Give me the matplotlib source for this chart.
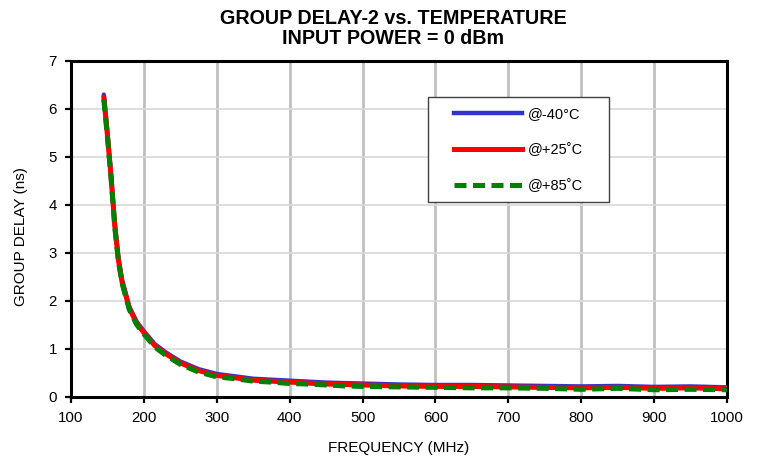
import matplotlib
matplotlib.use("Agg")
import matplotlib.pyplot as plt
from matplotlib.lines import Line2D
from matplotlib.patches import Rectangle

plt.rcParams['font.family'] = ['Liberation Sans', 'DejaVu Sans']

freq = [145, 150, 155, 160, 165, 170, 180, 190, 200, 215, 230, 250, 275, 300,
        325, 350, 375, 400, 425, 450, 475, 500, 550, 600, 650, 700, 750, 800,
        850, 900, 950, 1000]
gd_m40 = [6.30, 5.50, 4.62, 3.62, 2.90, 2.44, 1.88, 1.57, 1.37, 1.10, 0.93, 0.74,
          0.58, 0.48, 0.43, 0.38, 0.36, 0.34, 0.32, 0.30, 0.29, 0.28, 0.26, 0.25,
          0.25, 0.24, 0.23, 0.22, 0.23, 0.21, 0.22, 0.20]
gd_p25 = [6.25, 5.45, 4.58, 3.58, 2.86, 2.40, 1.85, 1.54, 1.34, 1.07, 0.90, 0.71,
          0.55, 0.45, 0.40, 0.35, 0.33, 0.31, 0.29, 0.27, 0.26, 0.25, 0.23, 0.22,
          0.22, 0.21, 0.20, 0.19, 0.20, 0.18, 0.19, 0.17]
gd_p85 = [6.20, 5.42, 4.55, 3.55, 2.83, 2.37, 1.82, 1.51, 1.31, 1.04, 0.87, 0.68,
          0.52, 0.42, 0.38, 0.33, 0.31, 0.28, 0.27, 0.25, 0.23, 0.22, 0.21, 0.20,
          0.19, 0.19, 0.18, 0.16, 0.18, 0.15, 0.16, 0.15]
labels = ['@-40°C', '@+25˚C', '@+85˚C']
xticks = [100, 200, 300, 400, 500, 600, 700, 800, 900, 1000]
yticks = [0, 1, 2, 3, 4, 5, 6, 7]

W, H = 763, 459
fig = plt.figure(figsize=(W / 100, H / 100), dpi=100)
ax = fig.add_axes([71 / W, 1 - 397 / H, (727 - 71) / W, (397 - 61) / H])

blue, red, green = '#3333cc', '#ff0000', '#008000'
dash = (0, (2.4, 1.3))
ax.plot(freq, gd_m40, color=blue, lw=3.2, solid_capstyle='round', zorder=3)
ax.plot(freq, gd_p25, color=red, lw=3.6, solid_capstyle='round', zorder=4)
ax.plot(freq, gd_p85, color=green, lw=3.6, ls=dash, zorder=5)

ax.set_xlim(100, 1000)
ax.set_ylim(0, 7)
ax.set_xticks(xticks)
ax.set_yticks(yticks)
ax.tick_params(direction='out', length=4, width=1.6, labelsize=10.8, pad=6)
for s in ax.spines.values():
    s.set_linewidth(2.2)
    s.set_color('black')
ax.xaxis.grid(True, color='#c0c0c0', lw=2.0)
ax.yaxis.grid(True, color='#d9d9d9', lw=1.2)
ax.set_axisbelow(True)

fig.text(399 / W, 1 - 448 / H, 'FREQUENCY (MHz)', ha='center', va='center', fontsize=11)
fig.text(21 / W, 1 - 237 / H, 'GROUP DELAY (ns)', ha='center', va='center',
         fontsize=11, rotation=90)
fig.text(393.5 / W, 1 - 18.8 / H, 'GROUP DELAY-2 vs. TEMPERATURE', ha='center',
         va='center', fontsize=14.2, fontweight='bold')
fig.text(393.5 / W, 1 - 38.5 / H, 'INPUT POWER = 0 dBm', ha='center',
         va='center', fontsize=14.2, fontweight='bold')

fig.patches.append(Rectangle((428 / W, 1 - 202 / H), (609 - 428) / W, (202 - 97) / H,
                             transform=fig.transFigure, facecolor='white',
                             edgecolor='#404040', lw=1.0, zorder=6))
handles = [Line2D([], [], color=blue, lw=3.2),
           Line2D([], [], color=red, lw=3.6),
           Line2D([], [], color=green, lw=3.6, ls=dash)]
leg = fig.legend(handles, labels, loc='upper left', bbox_to_anchor=(454 / W, 1 - 107 / H),
                 fontsize=10.5, frameon=False, handlelength=4.65, handletextpad=0.4,
                 labelspacing=1.5, borderpad=0, borderaxespad=0)
leg.set_zorder(7)

fig.savefig('out.png', dpi=100)
